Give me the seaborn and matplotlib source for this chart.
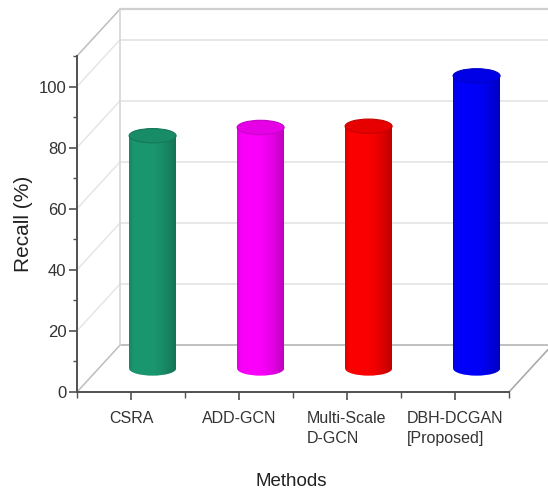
import numpy as np
import pandas as pd
import matplotlib
matplotlib.use("Agg")
import matplotlib.pyplot as plt
import seaborn as sns
from matplotlib.patches import Ellipse, Rectangle, PathPatch
from matplotlib.path import Path
from matplotlib.transforms import Affine2D
from matplotlib.ticker import MultipleLocator, FixedLocator
import matplotlib.colors as mcolors

# ---------------- data ----------------
methods = ["CSRA", "ADD-GCN", "Multi-Scale\nD-GCN", "DBH-DCGAN\n[Proposed]"]
recall = [76.2, 78.9, 79.3, 95.8]
colors = ["#1b9a72", "#ff00ff", "#ff0000", "#0000ff"]
y_major = [0, 20, 40, 60, 80, 100]
y_max = 110

# ---------------- style ----------------
sns.set_theme(style="white")
plt.rcParams['font.family'] = ['Liberation Sans', 'DejaVu Sans']

fig = plt.figure(figsize=(5.48, 4.93), dpi=100)
ax = fig.add_axes([77 / 548, 101 / 493, 432 / 548, 336 / 493])
ax.patch.set_alpha(0)

BAR_W = 0.435
EH = 4.7            # ellipse height in value units
DX, DY = 0.4, 15.4  # depth offset (category units, value units)

df = pd.DataFrame({"Method": methods, "Recall": recall})
sns.barplot(data=df, x="Method", y="Recall", hue="Method", palette=colors,
            width=BAR_W, saturation=1, legend=False, ax=ax, zorder=3,
            linewidth=0)

ax.set_xlim(-0.5, 3.5)
ax.set_ylim(0, y_max)

back = Affine2D().translate(DX, DY) + ax.transData
mid = Affine2D().translate(DX / 2, DY / 2) + ax.transData

# ---------------- 3D box (back wall, left wall, floor) ----------------
grid_levels = y_major + [y_max]
for yv in grid_levels:
    if yv == 0:
        c, lw = "#b5b5b5", 1.2
    elif yv == y_max:
        c, lw = "#cfcfcf", 1.6
    else:
        c, lw = "#e6e6e6", 1.3
    ax.plot([-0.5, 3.5], [yv, yv], transform=back, color=c, lw=lw,
            clip_on=False, zorder=0.5)
    dc = "#bdbdbd" if yv in (0, y_max) else "#e6e6e6"
    ax.plot([-0.5, -0.5 + DX], [yv, yv + DY], color=dc, lw=1.1,
            clip_on=False, zorder=0.5)
ax.plot([-0.5, -0.5], [0, y_max], transform=back, color="#d6d6d6", lw=1.2,
        clip_on=False, zorder=0.5)
ax.plot([3.5, 3.5 + DX], [0, DY], color="#aaaaaa", lw=1.2,
        clip_on=False, zorder=0.5)


def shade(c, f):
    r, g, b = mcolors.to_rgb(c)
    return (r * f, g * f, b * f)


# horizontal shading profile of a cylinder (alpha of a black overlay)
tt = np.linspace(0, 1, 200)
alpha_prof = 0.02 + 0.24 * np.clip((tt - 0.45) / 0.55, 0, None) ** 1.6 \
    + 0.12 * np.clip((0.1 - tt) / 0.1, 0, None)
grad = np.zeros((2, tt.size, 4))
grad[..., 3] = alpha_prof

# ---------------- cylinders ----------------
bars = [p for p in ax.patches if isinstance(p, Rectangle)]
for p in bars:
    p.set_transform(mid)
    p.set_clip_on(False)
    x0, w, h = p.get_x(), p.get_width(), p.get_height()
    cx = x0 + w / 2
    idx = int(round(cx))
    col = colors[idx]
    ax.add_patch(Ellipse((cx, 0), w, EH, transform=mid, facecolor=col,
                         edgecolor="none", zorder=2.9, clip_on=False))
    th = np.linspace(np.pi, 2 * np.pi, 60)
    verts = [(x0, h)] + [(cx + w / 2 * np.cos(t), EH / 2 * np.sin(t)) for t in th] \
        + [(x0 + w, h), (x0, h)]
    body = PathPatch(Path(verts), transform=mid, facecolor="none",
                     edgecolor="none")
    ax.add_patch(body)
    im = ax.imshow(grad, extent=[x0, x0 + w, -EH / 2, h], aspect="auto",
                   interpolation="bilinear", zorder=4, origin="lower")
    im.set_transform(mid)
    im.set_clip_path(body)
    ax.add_patch(Ellipse((cx, h), w, EH, transform=mid,
                         facecolor=shade(col, 0.9), edgecolor=shade(col, 0.78),
                         lw=0.8, zorder=5, clip_on=False))

# ---------------- axes, ticks, labels ----------------
for s in ("top", "right"):
    ax.spines[s].set_visible(False)
for s in ("left", "bottom"):
    ax.spines[s].set_color("#505050")
    ax.spines[s].set_linewidth(1.4)
    ax.spines[s].set_zorder(6)

ax.set_yticks(y_major)
ax.yaxis.set_minor_locator(MultipleLocator(10))
ax.set_xticks(range(len(methods)))
ax.xaxis.set_minor_locator(FixedLocator(np.arange(-0.5, len(methods), 1.0)))
ax.set_xticklabels(methods, fontsize=11.5, color="#333333",
                   multialignment="left", linespacing=1.35)
ax.tick_params(axis="y", which="major", left=True, direction="out", length=6,
               width=1.2, color="#505050", labelsize=12, labelcolor="#333333",
               pad=1.5)
ax.tick_params(axis="y", which="minor", left=True, direction="out", length=3,
               width=1.0, color="#505050")
ax.tick_params(axis="x", which="major", bottom=True, direction="out", length=6,
               width=1.2, color="#505050", pad=8)
ax.tick_params(axis="x", which="minor", bottom=True, direction="out", length=4,
               width=1.0, color="#505050")

ax.set_ylabel("Recall (%)", fontsize=15, color="#222222")
ax.yaxis.set_label_coords(-0.102, 0.50)
ax.set_xlabel("Methods", fontsize=13.5, color="#222222")
ax.xaxis.set_label_coords(0.495, -0.241)

ax.set_xlim(-0.5, 3.5)
ax.set_ylim(0, y_max)

fig.savefig("out.png", dpi=100)
